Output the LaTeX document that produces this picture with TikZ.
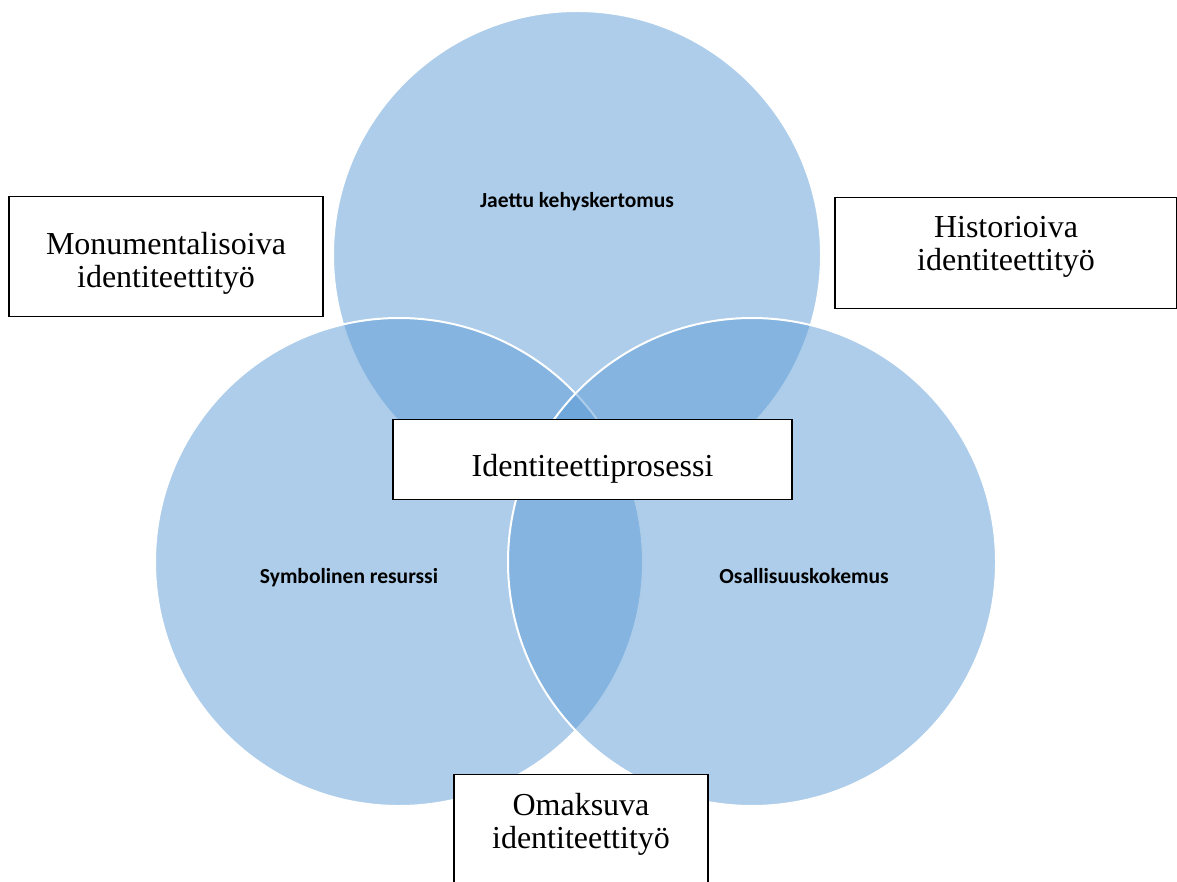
\documentclass[tikz,border=0pt]{standalone}
\usepackage{fontspec}
\setmainfont{Liberation Serif}
\newfontfamily\lblfont{Carlito}
\definecolor{accentblue}{HTML}{5B9BD5}
\newcommand\twoln[4]{\rule{0pt}{#1pt}#3\\#4\rule[-#2pt]{0pt}{#2pt}}
\newcommand\oneln[3]{\rule{0pt}{#1pt}#3\rule[-#2pt]{0pt}{#2pt}}
\tikzset{
  venn/.style={circle, minimum size=488pt, inner sep=0pt, fill=accentblue, fill opacity=0.5, draw=white, draw opacity=1, line width=2pt},
  vlabel/.style={font=\lblfont\bfseries\fontsize{21.5}{25}\selectfont, anchor=base, inner sep=0pt},
  tbox/.style={draw=black, fill=white, line width=1.1pt, inner sep=0pt, anchor=north, align=center, font=\fontsize{32}{33}\selectfont}
}
\begin{document}
\begin{tikzpicture}[x=1pt,y=-1pt]
\useasboundingbox (0,0) rectangle (1177,882);
\node[venn] (ctop) at (577,255) {};
\node[venn] (cleft) at (399,562) {};
\node[venn] (cright) at (752,562) {};
\node[vlabel] (ltop) at (577,208) {Jaettu kehyskertomus};
\node[vlabel] (lleft) at (349,583) {Symbolinen resurssi};
\node[vlabel] (lright) at (804,583) {Osallisuuskokemus};
\node[tbox, minimum width=314pt] (bmon) at (166,196) {\twoln{58}{29}{Monumentalisoiva}{identiteettityö}};
\node[tbox, minimum width=342pt] (bhist) at (1006,197) {\twoln{40}{38}{Historioiva}{identiteettityö}};
\node[tbox, minimum width=399pt] (bid) at (592.5,419) {\oneln{57}{23}{Identiteettiprosessi}};
\node[tbox, minimum width=254pt] (bomak) at (581,774) {\twoln{41}{52}{Omaksuva}{identiteettityö}};
\end{tikzpicture}
\end{document}
